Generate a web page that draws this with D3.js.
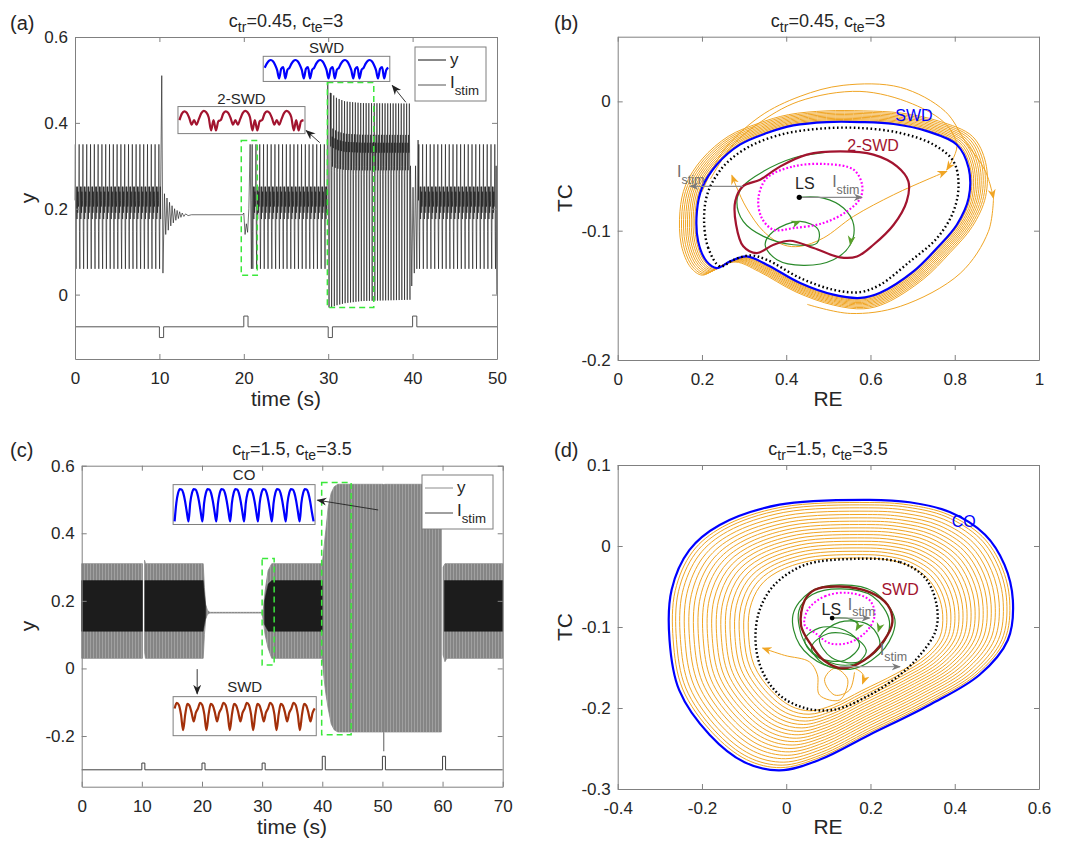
<!DOCTYPE html>
<html>
<head>
<meta charset="utf-8">
<script src="https://cdnjs.cloudflare.com/ajax/libs/d3/7.8.5/d3.min.js"></script>
<style>
  body { margin: 0; background: #fff; font-family: "Liberation Sans", Arial, Helvetica, sans-serif; }
  svg text { fill: #262626; }
  .tick text { font-size: 17px; fill: #262626; }
  .tick line, .domain { stroke: #808080; }
</style>
</head>
<body>
<svg id="fig" width="1065" height="843"></svg>
<script>
// ---------------- panel (a) data ----------------
const aXTicks = [0, 10, 20, 30, 40, 50];
const aYTicks = [0, 0.2, 0.4, 0.6];
const aPulseT = [10, 20, 30, 40];
const aPulseAmp = [-0.025, 0.025, -0.025, 0.025];
const aStimBase = -0.075, aPulseWidth = 0.5;
// one 2-SWD period (normalised trough..peak) and where it runs
const a2swdShape = [0.55, 1.0, 0.3, 0.0, 0.45, 0.66, 0.4, 0.66, 0.45, 0.62, 0.5];
const a2swdLo = 0.06, a2swdHi = 0.35, a2swdPeriod = 0.45;
const a2swdRuns = [[0, 10.15], [20.95, 29.85], [40.7, 49.9]];
// SWD period and its slowly settling envelope
const aSwdShape = [0.75, 1.0, 0.68, 0.0, 0.64, 0.8, 0.66, 0.84, 0.75];
const aSwdPeriod = 0.32, aSwdRun = [30.3, 39.75];
const aSwdEnvT = [30.3, 31, 32, 34, 39.75];
const aSwdEnvHi = [0.47, 0.458, 0.45, 0.446, 0.445];
const aSwdEnvLo = [-0.03, -0.025, -0.02, -0.015, -0.012];
// transients
const aTrans1 = [[10.15, 0.25], [10.28, 0.51], [10.42, 0.05], [10.6, 0.235], [10.75, 0.14], [10.9, 0.225], [11.05, 0.15],
  [11.2, 0.215], [11.35, 0.16], [11.5, 0.207], [11.65, 0.167], [11.8, 0.2], [11.95, 0.173], [12.1, 0.196], [12.25, 0.177],
  [12.4, 0.193], [12.55, 0.18], [12.7, 0.19], [12.9, 0.182], [13.1, 0.188], [13.4, 0.184], [13.8, 0.186], [19.85, 0.186],
  [20.0, 0.19], [20.15, 0.14], [20.3, 0.165], [20.45, 0.145], [20.6, 0.2], [20.75, 0.35], [20.9, 0.06]];
const aTrans2 = [[29.85, 0.2], [29.95, 0.5], [30.1, -0.03], [30.25, 0.47]];
const aTrans3 = [[39.75, 0.3], [39.9, 0.02], [40.05, 0.25], [40.2, 0.05], [40.35, 0.3], [40.5, 0.06], [40.65, 0.36]];
const aTrans4 = [[49.9, 0.3], [49.97, 0.0]];
const aBoxes = [[19.7, 21.6, 0.359, 0.045], [29.9, 35.4, 0.494, -0.03]];

// ---------------- panel (c) data ----------------
const cXTicks = [0, 10, 20, 30, 40, 50, 60, 70];
const cYTicks = [-0.2, 0, 0.2, 0.4, 0.6];
const cPulseT = [10, 20, 30, 40, 50, 60];
const cPulseAmp = [0.02, 0.02, 0.02, 0.04, 0.04, 0.04];
const cStimBase = -0.3, cPulseWidth = 0.5;
const cEnvT = [0, 10.1, 10.15, 10.45, 10.6, 20.2, 20.4, 20.6, 20.9, 21.3, 30.0, 30.2, 30.5, 31.0, 31.6, 40.0, 40.3, 40.6, 41.0, 41.5, 42.0, 42.6, 50.1, 50.15, 50.35, 59.8, 59.85, 60.1, 60.4, 60.7, 70];
const cEnvTop = [0.31, 0.31, null, 0.32, 0.31, 0.31, 0.24, 0.19, 0.172, 0.166, 0.166, 0.175, 0.23, 0.29, 0.31, 0.31, 0.36, 0.41, 0.48, 0.52, 0.538, 0.545, 0.545, null, 0.545, 0.545, null, 0.30, 0.31, 0.31, 0.31];
const cEnvBot = [0.03, 0.03, null, 0.05, 0.03, 0.03, 0.10, 0.145, 0.16, 0.164, 0.164, 0.14, 0.10, 0.06, 0.03, 0.03, -0.03, -0.075, -0.12, -0.165, -0.182, -0.188, -0.188, null, -0.188, -0.188, null, 0.04, 0.02, 0.03, 0.03];
const cCoreT = [0, 10.1, 10.15, 10.5, 20.2, 20.4, 20.6, 20.65, 30.4, 31.0, 31.6, 40.0, 40.05, 60.3, 70];
const cCoreTop = [0.26, 0.26, null, 0.26, 0.26, 0.22, 0.185, null, 0.2, 0.25, 0.26, 0.26, null, 0.26, 0.26];
const cCoreBot = [0.11, 0.11, null, 0.11, 0.11, 0.13, 0.15, null, 0.13, 0.11, 0.11, 0.11, null, 0.11, 0.11];
const cSpike = [[50.22, 0.545], [50.22, -0.245]];
const cBoxes = [[30.0, 32.0, 0.325, 0.01], [39.9, 44.8, 0.55, -0.196]];

// ---------------- insets ----------------
const insSwdA = [0.55, 0.75, 0.88, 0.92, 0.86, 0.7, 0.45, 0.05, 0.5, 0.58, 0.05, 0.45];
const ins2swdA = [0.5, 0.78, 0.88, 0.82, 0.6, 0.3, 0.5, 0.3, 0.55, 0.8, 0.9, 0.84, 0.62, 0.05, 0.5, 0.05, 0.45];
const insCoC = [0.03, 0.55, 0.82, 0.93, 0.92, 0.82, 0.6, 0.3];
const insSwdC = [0.72, 0.88, 0.82, 0.55, 0.1, 0.55, 0.85, 0.8, 0.6, 0.35, 0.6];

// ---------------- panel (b) data (RE, TC) ----------------
const bXTicks = [0, 0.2, 0.4, 0.6, 0.8, 1];
const bYTicks = [-0.2, -0.1, 0];
const bBlue = [[0.496, -0.016], [0.576, -0.016], [0.655, -0.0175], [0.734, -0.023], [0.805, -0.0335], [0.833, -0.0516], [0.833, -0.0748],
  [0.805, -0.0954], [0.758, -0.1134], [0.702, -0.1315], [0.623, -0.148], [0.576, -0.152], [0.512, -0.1495], [0.433, -0.1405],
  [0.354, -0.1263], [0.306, -0.1199], [0.267, -0.1237], [0.235, -0.1289], [0.211, -0.1237], [0.191, -0.1083], [0.188, -0.0851],
  [0.2, -0.067], [0.235, -0.049], [0.29, -0.0335], [0.354, -0.0245], [0.417, -0.0186]];
const bDotted = [[0.243, -0.1276], [0.215, -0.1134], [0.205, -0.0902], [0.215, -0.0696], [0.251, -0.0503], [0.306, -0.0361],
  [0.386, -0.0258], [0.481, -0.0211], [0.576, -0.0206], [0.671, -0.0245], [0.75, -0.0335], [0.797, -0.0464], [0.809, -0.0644],
  [0.797, -0.0851], [0.758, -0.1057], [0.694, -0.1237], [0.623, -0.1418], [0.576, -0.1475], [0.512, -0.1457], [0.433, -0.1366],
  [0.354, -0.1225], [0.314, -0.1191], [0.275, -0.1225]];
const b2swd = [[0.297, -0.0657], [0.338, -0.0606], [0.386, -0.0503], [0.449, -0.0412], [0.528, -0.0387], [0.607, -0.0412],
  [0.663, -0.0503], [0.69, -0.0619], [0.686, -0.0773], [0.655, -0.0954], [0.607, -0.1109], [0.568, -0.1199], [0.528, -0.1206],
  [0.465, -0.1134], [0.409, -0.1078], [0.37, -0.1109], [0.33, -0.1173], [0.298, -0.1121], [0.281, -0.0954], [0.279, -0.0773]];
const bMagenta = [[0.354, -0.0593], [0.417, -0.0503], [0.496, -0.0485], [0.56, -0.0528], [0.58, -0.0644], [0.576, -0.0748],
  [0.544, -0.0851], [0.488, -0.0941], [0.417, -0.098], [0.37, -0.0993], [0.342, -0.0902], [0.334, -0.0748]];
const bGreen = [[0.431, -0.0742], [0.488, -0.0748], [0.536, -0.0825], [0.56, -0.0954], [0.552, -0.1109], [0.512, -0.1225],
  [0.441, -0.1268], [0.378, -0.1225], [0.35, -0.1109], [0.37, -0.1005], [0.433, -0.0928], [0.476, -0.0993], [0.473, -0.1096],
  [0.417, -0.1109], [0.346, -0.1044], [0.298, -0.0928], [0.283, -0.0773], [0.297, -0.0657], [0.346, -0.0541], [0.417, -0.0438],
  [0.496, -0.0392]];
const bGreenArrows = [[3, 4], [9, 10]];
const bLS = [0.431, -0.0742];
const bStimA = [[0.431, -0.0742], [0.58, -0.0742]];
const bStimB = [[0.297, -0.0657], [0.172, -0.0657]];
const bOrangeCenter = [0.51, -0.085];
const bOrangeScales = [1.012, 1.025, 1.038, 1.052, 1.066, 1.08, 1.095, 1.11, 1.125];
const bOrangeBig1a = [[0.2, -0.07], [0.25, -0.0387], [0.338, -0.0116], [0.433, 0.0039], [0.535, 0.0124], [0.671, 0.0108],
  [0.777, -0.0077], [0.825, -0.031], [0.873, -0.0541], [0.892, -0.075]];
const bOrangeBig1b = [[0.892, -0.075], [0.88, -0.1005], [0.813, -0.133], [0.671, -0.1585], [0.552, -0.164], [0.45, -0.157]];
const bOrangeBig2 = [[0.22, -0.06], [0.27, -0.035], [0.33, -0.018], [0.43, 0.0], [0.575, 0.0077], [0.7, -0.002], [0.78, -0.018],
  [0.805, -0.035], [0.781, -0.053]];
const bOrangeCross = [[0.271, -0.0572], [0.283, -0.067], [0.306, -0.0825], [0.346, -0.1005], [0.393, -0.1109], [0.433, -0.1121],
  [0.488, -0.1057], [0.56, -0.0889], [0.655, -0.0722], [0.734, -0.0606], [0.781, -0.0541]];

// ---------------- panel (d) data (RE, TC) ----------------
const dXTicks = [-0.4, -0.2, 0, 0.2, 0.4, 0.6];
const dYTicks = [-0.3, -0.2, -0.1, 0, 0.1];
const dBlue = [[0.198, 0.057], [0.293, 0.054], [0.388, 0.042], [0.472, 0.014], [0.518, -0.023], [0.538, -0.067], [0.526, -0.116],
  [0.459, -0.159], [0.341, -0.196], [0.198, -0.233], [0.079, -0.264], [-0.016, -0.277], [-0.099, -0.267], [-0.182, -0.233],
  [-0.254, -0.178], [-0.277, -0.116], [-0.272, -0.054], [-0.23, -0.005], [-0.158, 0.026], [-0.016, 0.051]];
const dDotted = [[0.158, -0.016], [0.27, -0.02], [0.33, -0.0395], [0.357, -0.073], [0.355, -0.104], [0.317, -0.135], [0.27, -0.159],
  [0.198, -0.184], [0.115, -0.202], [0.044, -0.2], [-0.016, -0.184], [-0.058, -0.153], [-0.073, -0.116], [-0.063, -0.079],
  [-0.028, -0.048], [0.044, -0.0235]];
const dRed = [[0.044, -0.067], [0.068, -0.054], [0.127, -0.05], [0.198, -0.057], [0.241, -0.073], [0.252, -0.094], [0.233, -0.116],
  [0.185, -0.141], [0.133, -0.151], [0.089, -0.141], [0.059, -0.122], [0.035, -0.098]];
const dMagenta = [[0.051, -0.079], [0.092, -0.062], [0.151, -0.058], [0.198, -0.067], [0.21, -0.085], [0.193, -0.104],
  [0.151, -0.119], [0.103, -0.12], [0.068, -0.107], [0.044, -0.098]];
const dGreenLoops = [
  [[0.016, -0.085], [0.056, -0.057], [0.127, -0.048], [0.21, -0.057], [0.258, -0.091], [0.234, -0.126], [0.163, -0.151], [0.091, -0.147], [0.032, -0.122]],
  [[0.03, -0.08], [0.062, -0.06], [0.13, -0.053], [0.205, -0.062], [0.245, -0.093], [0.225, -0.124], [0.16, -0.146], [0.095, -0.142], [0.045, -0.12]],
  [[0.044, -0.116], [0.079, -0.101], [0.139, -0.104], [0.174, -0.122], [0.139, -0.141], [0.074, -0.137]],
  [[0.079, -0.114], [0.127, -0.094], [0.198, -0.098], [0.222, -0.122], [0.174, -0.143], [0.108, -0.138]],
  [[0.06, -0.125], [0.1, -0.108], [0.16, -0.112], [0.19, -0.13], [0.15, -0.15], [0.09, -0.146]]];
const dGreenPath = [[0.109, -0.089], [0.15, -0.09], [0.17, -0.097], [0.166, -0.104]];
const dGreenArrow = [[0.226, -0.092], [0.218, -0.106]];
const dLS = [0.109, -0.089];
const dStimA = [[0.109, -0.089], [0.198, -0.089]];
const dStimB = [[0.127, -0.149], [0.27, -0.149]];
const dOrangeCenter = [0.155, -0.108];
const dOrangeScales = [0.565, 0.59, 0.615, 0.64, 0.665, 0.69, 0.715, 0.74, 0.765, 0.79, 0.815, 0.84, 0.865, 0.89, 0.915, 0.94, 0.962, 0.98];
const dOrangeSmall1 = [[0.162, -0.156], [0.15, -0.178], [0.115, -0.184], [0.091, -0.165], [0.115, -0.151], [0.146, -0.165],
  [0.127, -0.19], [0.079, -0.184], [0.074, -0.159], [0.055, -0.143], [-0.004, -0.135], [-0.056, -0.126]];
const dOrangeSmall2 = [[0.122, -0.151], [0.162, -0.151], [0.184, -0.16], [0.181, -0.17]];

// ---------------- colours ----------------
const ORANGE = "#F0A524", GREEN = "#2a8a2a", RED = "#A2142F", BLUE = "#0000ff", MAG = "#ff00ff", RUST = "#a3300a";

const svg = d3.select("#fig");
const defs = svg.append("defs");
function marker(id, color, size) {
  defs.append("marker").attr("id", id).attr("viewBox", "0 0 10 10").attr("refX", 9).attr("refY", 5)
    .attr("markerWidth", size).attr("markerHeight", size).attr("markerUnits", "userSpaceOnUse")
    .attr("orient", "auto-start-reverse")
    .append("path").attr("d", "M0,1 L10,5 L0,9 L3,5 Z").attr("fill", color);
}
marker("mOrange", ORANGE, 10); marker("mGreen", "#5aa02c", 10); marker("mGray", "#7a7a7a", 9); marker("mBlack", "#222", 10);
const pat = defs.append("pattern").attr("id", "stripes").attr("width", 3).attr("height", 10).attr("patternUnits", "userSpaceOnUse");
pat.append("rect").attr("x", 0).attr("y", 0).attr("width", 1).attr("height", 10).attr("fill", "#fff").attr("opacity", 0.22);

// ---------------- helpers ----------------
function axes(g, x, y, xt, yt) {
  const [x0, x1] = x.range(), [y0, y1] = y.range();
  const f = v => String(v);
  g.append("g").attr("transform", `translate(0,${y0})`).call(d3.axisBottom(x).tickValues(xt).tickSize(-5).tickSizeOuter(0).tickPadding(13).tickFormat(f));
  g.append("g").attr("transform", `translate(0,${y1})`).call(d3.axisTop(x).tickValues(xt).tickSize(-5).tickSizeOuter(0).tickFormat(""));
  g.append("g").attr("transform", `translate(${x0},0)`).call(d3.axisLeft(y).tickValues(yt).tickSize(-5).tickSizeOuter(0).tickPadding(7).tickFormat(f));
  g.append("g").attr("transform", `translate(${x1},0)`).call(d3.axisRight(y).tickValues(yt).tickSize(-5).tickSizeOuter(0).tickFormat(""));
  g.selectAll(".tick text").style("font-family", "inherit");
}
function title(g, cx, yb, tr, te) {
  const t = g.append("text").attr("x", cx).attr("y", yb).attr("text-anchor", "middle").style("font-size", "18px");
  t.append("tspan").text("c");
  t.append("tspan").attr("dy", 5).style("font-size", "14px").text("tr");
  t.append("tspan").attr("dy", -5).text("=" + tr + ", c");
  t.append("tspan").attr("dy", 5).style("font-size", "14px").text("te");
  t.append("tspan").attr("dy", -5).text("=" + te);
}
function istimText(g, px, py, size, color) {
  const t = g.append("text").attr("x", px).attr("y", py).style("font-size", size + "px").style("fill", color);
  t.append("tspan").text("I");
  t.append("tspan").attr("dy", size * 0.4).style("font-size", (size * 0.78) + "px").text("stim");
  return t;
}
function label(g, txt, px, py, size, anchor) {
  return g.append("text").attr("x", px).attr("y", py).attr("text-anchor", anchor || "start").style("font-size", size + "px").text(txt);
}
const lineXY = (x, y) => d3.line().x(d => x(d[0])).y(d => y(d[1]));
function pulses(base, ts, amps, w) {
  const pts = [[0, base]];
  ts.forEach((t, i) => { pts.push([t, base], [t, base + amps[i]], [t + w, base + amps[i]], [t + w, base]); });
  return pts;
}
function oscillate(t0, t1, period, shape, lo, hi) {
  const pts = [], n = shape.length, dt = period / n;
  for (let i = 0, t = t0; t <= t1; i++, t = t0 + i * dt) {
    const l = lo(t), h = hi(t);
    pts.push([t, l + shape[i % n] * (h - l)]);
  }
  return pts;
}
function inset(g, x, y, box, shape, cycles, color, name, lblY) {
  const [t0, t1, yt, yb] = box;
  const bx = x(t0), bw = x(t1) - x(t0), by = y(yt), bh = y(yb) - y(yt);
  g.append("rect").attr("x", bx).attr("y", by).attr("width", bw).attr("height", bh).attr("fill", "#fff").attr("stroke", "#7f7f7f").attr("stroke-width", 1);
  const vals = [];
  for (let c = 0; c < cycles; c++) shape.forEach(v => vals.push(v));
  vals.push(shape[0]);
  const ix = d3.scaleLinear().domain([0, vals.length - 1]).range([bx + 1.5, bx + bw - 1.5]);
  const iy = d3.scaleLinear().domain([0, 1]).range([by + bh - 2, by + 2]);
  g.append("path").datum(vals).attr("fill", "none").attr("stroke", color).attr("stroke-width", 2.2)
    .attr("d", d3.line().x((d, i) => ix(i)).y(d => iy(d)).curve(d3.curveMonotoneX));
  label(g, name, bx + bw / 2, lblY, 15, "middle");
}
function dashBox(g, x, y, b) {
  g.append("rect").attr("x", x(b[0])).attr("y", y(b[2])).attr("width", x(b[1]) - x(b[0])).attr("height", y(b[3]) - y(b[2]))
    .attr("fill", "none").attr("stroke", "#3be83b").attr("stroke-width", 1.5).attr("stroke-dasharray", "6,4");
}
function legend(g, bx, by, yColor, sColor) {
  g.append("rect").attr("x", bx).attr("y", by).attr("width", 71).attr("height", 54).attr("fill", "#fff").attr("stroke", "#7f7f7f");
  g.append("line").attr("x1", bx + 3).attr("x2", bx + 31).attr("y1", by + 13).attr("y2", by + 13).attr("stroke", yColor).attr("stroke-width", 1);
  label(g, "y", bx + 35, by + 18, 17);
  g.append("line").attr("x1", bx + 3).attr("x2", bx + 31).attr("y1", by + 38).attr("y2", by + 38).attr("stroke", sColor).attr("stroke-width", 1);
  istimText(g, bx + 35, by + 41, 17, "#262626");
}
const scaleLoop = (pts, c, s) => pts.map(([u, v]) => [c[0] + s * (u - c[0]), c[1] + s * (v - c[1])]);
function curve(g, x, y, pts, color, w, opts) {
  opts = opts || {};
  const p = g.append("path").datum(pts).attr("fill", "none").attr("stroke", color).attr("stroke-width", w)
    .attr("d", lineXY(x, y).curve(opts.closed ? d3.curveCatmullRomClosed.alpha(0.5) : d3.curveCatmullRom.alpha(0.5)));
  if (opts.dash) p.attr("stroke-dasharray", opts.dash);
  if (opts.end) p.attr("marker-end", `url(#${opts.end})`);
  if (opts.start) p.attr("marker-start", `url(#${opts.start})`);
  return p;
}

// ================= panel (a) =================
{
  const g = svg.append("g");
  const x = d3.scaleLinear().domain([0, 50]).range([75, 497]);
  const y = d3.scaleLinear().domain([-0.15, 0.6]).range([359, 37]);
  const cst = v => () => v;
  let ys = [];
  ys = ys.concat(oscillate(a2swdRuns[0][0], a2swdRuns[0][1], a2swdPeriod, a2swdShape, cst(a2swdLo), cst(a2swdHi)));
  ys = ys.concat(aTrans1);
  ys = ys.concat(oscillate(a2swdRuns[1][0], a2swdRuns[1][1], a2swdPeriod, a2swdShape, cst(a2swdLo), cst(a2swdHi)));
  ys = ys.concat(aTrans2);
  const hi = d3.scaleLinear().domain(aSwdEnvT).range(aSwdEnvHi).clamp(true);
  const lo = d3.scaleLinear().domain(aSwdEnvT).range(aSwdEnvLo).clamp(true);
  ys = ys.concat(oscillate(aSwdRun[0], aSwdRun[1], aSwdPeriod, aSwdShape, lo, hi));
  ys = ys.concat(aTrans3);
  ys = ys.concat(oscillate(a2swdRuns[2][0], a2swdRuns[2][1], a2swdPeriod, a2swdShape, cst(a2swdLo), cst(a2swdHi)));
  ys = ys.concat(aTrans4);
  g.append("path").datum(ys).attr("fill", "none").attr("stroke", "#111").attr("stroke-width", 0.6).attr("d", lineXY(x, y));
  const st = pulses(aStimBase, aPulseT, aPulseAmp, aPulseWidth); st.push([50, aStimBase]);
  g.append("path").datum(st).attr("fill", "none").attr("stroke", "#555").attr("stroke-width", 1).attr("d", lineXY(x, y));
  aBoxes.forEach(b => dashBox(g, x, y, b));
  axes(g, x, y, aXTicks, aYTicks);
  inset(g, x, y, [22.3, 37.3, 0.555, 0.4965], insSwdA, 5, BLUE, "SWD", 53);
  inset(g, x, y, [12.2, 27.25, 0.438, 0.375], ins2swdA, 3, RED, "2-SWD", 104);
  const arr = [[[29.0, 0.354], [27.4, 0.382]], [[39.2, 0.448], [37.6, 0.487]]];
  arr.forEach(a => g.append("path").datum(a).attr("stroke", "#222").attr("stroke-width", 0.9).attr("fill", "none").attr("d", lineXY(x, y)).attr("marker-end", "url(#mBlack)"));
  legend(g, 415, 47, "#111", "#555");
  title(g, 286, 27, "0.45", "3");
  label(g, "(a)", 10, 30, 20);
  label(g, "time (s)", 286, 406, 21, "middle");
  label(g, "y", 0, 0, 21, "middle").attr("transform", "translate(35,198) rotate(-90)");
}

// ================= panel (c) =================
{
  const g = svg.append("g");
  const x = d3.scaleLinear().domain([0, 70]).range([81.7, 502.7]);
  const y = d3.scaleLinear().domain([-0.35, 0.6]).range([786.7, 465.7]);
  const env = cEnvT.map((t, i) => [t, cEnvTop[i], cEnvBot[i]]);
  const core = cCoreT.map((t, i) => [t, cCoreTop[i], cCoreBot[i]]);
  const area = d3.area().defined(d => d[1] != null).x(d => x(d[0])).y0(d => y(d[2])).y1(d => y(d[1]));
  g.append("path").datum(env).attr("fill", "#858585").attr("stroke", "#858585").attr("stroke-width", 0.8).attr("d", area);
  g.append("path").datum(env).attr("fill", "url(#stripes)").attr("d", area);
  g.append("path").datum(core).attr("fill", "#1c1c1c").attr("stroke", "#1c1c1c").attr("stroke-width", 0.5).attr("d", area);
  g.append("path").datum(cSpike).attr("stroke", "#777").attr("stroke-width", 1.2).attr("d", lineXY(x, y));
  const st = pulses(cStimBase, cPulseT, cPulseAmp, cPulseWidth); st.push([70, cStimBase]);
  g.append("path").datum(st).attr("fill", "none").attr("stroke", "#404040").attr("stroke-width", 1).attr("d", lineXY(x, y));
  cBoxes.forEach(b => dashBox(g, x, y, b));
  axes(g, x, y, cXTicks, cYTicks);
  inset(g, x, y, [15.2, 38.8, 0.544, 0.426], insCoC, 10, BLUE, "CO", 480);
  inset(g, x, y, [15.2, 39.0, -0.0835, -0.199], insSwdC, 6, RUST, "SWD", 692);
  const arr = [[[49.3, 0.469], [39.2, 0.498]], [[19.2, -0.002], [19.2, -0.075]]];
  arr.forEach(a => g.append("path").datum(a).attr("stroke", "#222").attr("stroke-width", 0.9).attr("fill", "none").attr("d", lineXY(x, y)).attr("marker-end", "url(#mBlack)"));
  legend(g, 422, 475, "#8c8c8c", "#404040");
  title(g, 292, 455, "1.5", "3.5");
  label(g, "(c)", 10, 457, 20);
  label(g, "time (s)", 292, 834, 21, "middle");
  label(g, "y", 0, 0, 21, "middle").attr("transform", "translate(35,626) rotate(-90)");
}

// ================= panel (b) =================
{
  const g = svg.append("g");
  const x = d3.scaleLinear().domain([0, 1]).range([617.7, 1039]);
  const y = d3.scaleLinear().domain([-0.2, 0.05]).range([360, 36.7]);
  bOrangeScales.forEach(s => curve(g, x, y, scaleLoop(bBlue, bOrangeCenter, s), ORANGE, 1, { closed: true }));
  curve(g, x, y, bOrangeBig1a, ORANGE, 1, { end: "mOrange" });
  curve(g, x, y, bOrangeBig1b, ORANGE, 1);
  curve(g, x, y, bOrangeBig2, ORANGE, 1, { end: "mOrange" });
  curve(g, x, y, bOrangeCross, ORANGE, 1, { start: "mOrange", end: "mOrange" });
  curve(g, x, y, bBlue, BLUE, 2.2, { closed: true });
  curve(g, x, y, bDotted, "#000", 2.4, { closed: true, dash: "1.6,2.6" });
  curve(g, x, y, bGreen, GREEN, 1.2);
  bGreenArrows.forEach(([i, j]) => curve(g, x, y, [bGreen[i], bGreen[j]], "none", 1, { end: "mGreen" }));
  curve(g, x, y, b2swd, RED, 2.2, { closed: true });
  curve(g, x, y, bMagenta, MAG, 2.2, { closed: true, dash: "1.8,2" });
  [bStimA, bStimB].forEach(a => g.append("path").datum(a).attr("stroke", "#8a8a8a").attr("stroke-width", 1.2).attr("d", lineXY(x, y)).attr("marker-end", "url(#mGray)"));
  g.append("circle").attr("cx", x(bLS[0])).attr("cy", y(bLS[1])).attr("r", 2.6).attr("fill", "#000");
  label(g, "LS", x(0.421), y(-0.068), 16);
  istimText(g, x(0.509), y(-0.0665), 16, "#6e6e6e");
  istimText(g, x(0.141), y(-0.0588), 16, "#6e6e6e");
  label(g, "SWD", x(0.659), y(-0.0155), 16).style("fill", BLUE);
  label(g, "2-SWD", x(0.545), y(-0.0387), 16).style("fill", RED);
  axes(g, x, y, bXTicks, bYTicks);
  title(g, 828, 27, "0.45", "3");
  label(g, "(b)", 554, 30, 20);
  label(g, "RE", 828, 406, 21, "middle");
  label(g, "TC", 0, 0, 21, "middle").attr("transform", "translate(572,198) rotate(-90)");
}

// ================= panel (d) =================
{
  const g = svg.append("g");
  const x = d3.scaleLinear().domain([-0.4, 0.6]).range([617.7, 1039]);
  const y = d3.scaleLinear().domain([-0.3, 0.1]).range([789, 465]);
  dOrangeScales.forEach(s => curve(g, x, y, scaleLoop(dBlue, dOrangeCenter, s), ORANGE, 1, { closed: true }));
  curve(g, x, y, dBlue, BLUE, 2.2, { closed: true });
  curve(g, x, y, dDotted, "#000", 2.4, { closed: true, dash: "1.6,2.4" });
  curve(g, x, y, dOrangeSmall1, ORANGE, 1, { end: "mOrange" });
  curve(g, x, y, dOrangeSmall2, ORANGE, 1, { end: "mOrange" });
  dGreenLoops.forEach(l => curve(g, x, y, l, GREEN, 1.2, { closed: true }));
  curve(g, x, y, dGreenPath, GREEN, 1.2, { end: "mGreen" });
  curve(g, x, y, dGreenArrow, "none", 1, { end: "mGreen" });
  curve(g, x, y, dRed, "#8b1a1a", 2.4, { closed: true });
  curve(g, x, y, dMagenta, MAG, 2, { closed: true, dash: "1.8,2" });
  [dStimA, dStimB].forEach(a => g.append("path").datum(a).attr("stroke", "#9a9a9a").attr("stroke-width", 1.2).attr("d", lineXY(x, y)).attr("marker-end", "url(#mGray)"));
  g.append("circle").attr("cx", x(dLS[0])).attr("cy", y(dLS[1])).attr("r", 2.4).attr("fill", "#000");
  label(g, "LS", x(0.084), y(-0.085), 16);
  istimText(g, x(0.146), y(-0.079), 16, "#6e6e6e");
  istimText(g, x(0.222), y(-0.1346), 16, "#6e6e6e");
  label(g, "CO", x(0.393), y(0.0235), 16).style("fill", BLUE);
  label(g, "SWD", x(0.226), y(-0.0605), 16).style("fill", RED);
  axes(g, x, y, dXTicks, dYTicks);
  title(g, 828, 455, "1.5", "3.5");
  label(g, "(d)", 554, 457, 20);
  label(g, "RE", 828, 834, 21, "middle");
  label(g, "TC", 0, 0, 21, "middle").attr("transform", "translate(572,627) rotate(-90)");
}
</script>
</body>
</html>
